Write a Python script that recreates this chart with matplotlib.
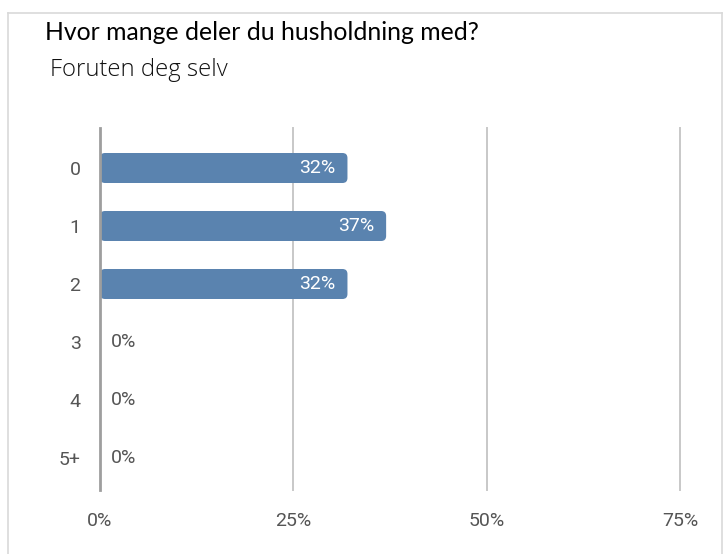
import matplotlib
matplotlib.use("Agg")
import matplotlib.pyplot as plt
from matplotlib.patches import FancyBboxPatch
from matplotlib.lines import Line2D

categories = ["0", "1", "2", "3", "4", "5+"]
values = [32, 37, 32, 0, 0, 0]
xticks = [0, 25, 50, 75]
xticklabels = ["0%", "25%", "50%", "75%"]
title = "Hvor mange deler du husholdning med?"
subtitle = "Foruten deg selv"

W, H = 724, 554
fig = plt.figure(figsize=(W / 100, H / 100), dpi=100)

# page border
for xs, ys in [((8 / W, 722 / W), (1 - 13 / H, 1 - 13 / H)),
               ((8 / W, 8 / W), (0, 1 - 13 / H)),
               ((722 / W, 722 / W), (0, 1 - 13 / H))]:
    fig.add_artist(Line2D(xs, ys, color="#d9d9d9", lw=1.2, transform=fig.transFigure))

x0, x1 = 0, 76
px_per_unit = (680 - 100) / 75
left = 100 / W
width = (x1 - x0) * px_per_unit / W
bottom = (H - 490) / H
height = (490 - 128) / H
ax = fig.add_axes([left, bottom, width, height])
ax.set_xlim(x0, x1)
ylo = -(168 - 128) / 58
yhi = 5 + (490 - 458) / 58
ax.set_ylim(yhi, ylo)

for s in ax.spines.values():
    s.set_visible(False)

for t in xticks:
    ax.axvline(t, color="#9e9e9e" if t == 0 else "#c8c8c8",
               lw=2.0 if t == 0 else 1.4, zorder=3 if t == 0 else 0, clip_on=False)

FS = 14
bar_h = 30 / 58
unit_per_px_x = 1 / px_per_unit
unit_per_px_y = 1 / 58
r = 5 * unit_per_px_x
aspect = unit_per_px_y / unit_per_px_x
for i, v in enumerate(values):
    if v > 0:
        p = FancyBboxPatch((0, i - bar_h / 2), v, bar_h,
                           boxstyle=f"round,pad=0,rounding_size={r}",
                           mutation_aspect=aspect, facecolor="#5a83af",
                           edgecolor="none", zorder=2)
        ax.add_patch(p)
        ax.text(v - 12 * unit_per_px_x, i, f"{v}%", ha="right", va="center",
                color="white", fontsize=FS, family="Roboto", zorder=4)
    else:
        ax.text(11 * unit_per_px_x, i, f"{v}%", ha="left", va="center",
                color="#555555", fontsize=FS, family="Roboto", zorder=4)

ax.set_yticks(range(len(categories)))
ax.set_yticklabels(categories, family="Roboto", fontsize=FS, color="#555555")
ax.set_xticks(xticks)
ax.set_xticklabels(xticklabels, family="Roboto", fontsize=FS, color="#555555")
ax.tick_params(axis="y", length=0, pad=14)
ax.tick_params(axis="x", length=0, pad=16)

fig.text(45 / W, 1 - 33 / H, title, family="Lato", fontsize=17.8,
         color="black", va="center", ha="left")
fig.text(50 / W, 1 - 70 / H, subtitle, family="Open Sans", fontweight="light",
         fontsize=17.2, color="#111111", va="center", ha="left")

fig.savefig("out.png", dpi=100)
